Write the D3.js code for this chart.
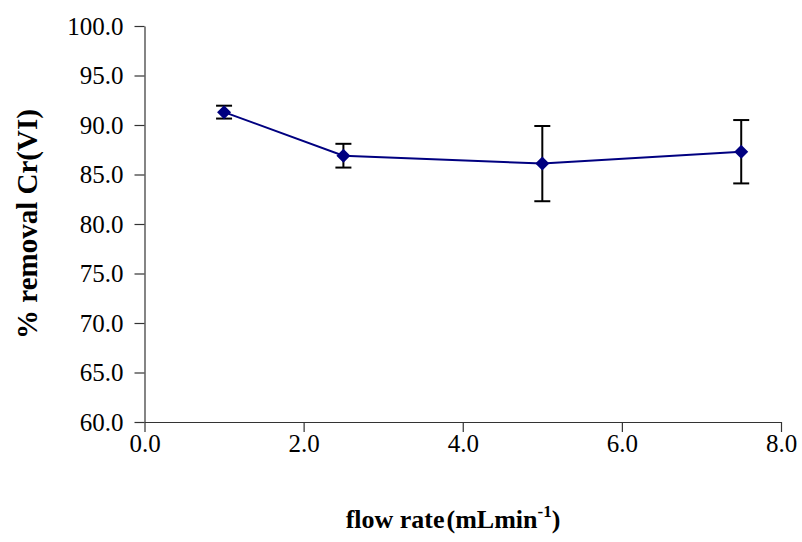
<!DOCTYPE html>
<html>
<head>
<meta charset="utf-8">
<script src="https://cdn.jsdelivr.net/npm/d3@7"></script>
<style>
  body { margin: 0; background: #fff; }
  svg text { font-family: "Liberation Serif", "Times New Roman", serif !important; }
</style>
</head>
<body>
<div id="chart"></div>
<script>
const flowRate = [1.0, 2.5, 5.0, 7.5];
const removal = [91.3, 86.9, 86.1, 87.3];
const errorBar = [0.65, 1.2, 3.8, 3.2];
const xTicks = [0, 2, 4, 6, 8];
const yTicks = [60, 65, 70, 75, 80, 85, 90, 95, 100];

const width = 802, height = 542;
const margin = {left: 144.5, right: 21, top: 26, bottom: 120};
const fontFam = "Liberation Serif, Times New Roman, serif";

const svg = d3.select("#chart").append("svg")
  .attr("width", width)
  .attr("height", height)
  .attr("font-family", fontFam);

const x = d3.scaleLinear().domain([0, 8]).range([margin.left, width - margin.right]);
const y = d3.scaleLinear().domain([60, 100]).range([height - margin.bottom, margin.top]);

// axes
const xAxis = svg.append("g")
  .attr("transform", `translate(0,${y(60)})`)
  .call(d3.axisBottom(x).tickValues(xTicks).tickFormat(d3.format(".1f")).tickSize(10).tickSizeOuter(0));
const yAxis = svg.append("g")
  .attr("transform", `translate(${x(0)},0)`)
  .call(d3.axisLeft(y).tickValues(yTicks).tickFormat(d3.format(".1f")).tickSize(10).tickSizeOuter(0));

[xAxis, yAxis].forEach(a => {
  a.attr("font-family", fontFam).attr("font-size", 25);
  a.selectAll(".domain").attr("stroke", "#333").attr("stroke-width", 1.2);
  a.selectAll(".tick line").attr("stroke", "#333").attr("stroke-width", 1.2);
  a.selectAll(".tick text").attr("fill", "#000");
});
xAxis.selectAll(".tick text").attr("y", 12).attr("dy", "0.71em");
yAxis.selectAll(".tick text").attr("x", -21);

const data = flowRate.map((f, i) => ({f, v: removal[i], e: errorBar[i]}));

// error bars
const eb = svg.append("g").attr("stroke", "#000").attr("stroke-width", 2);
data.forEach(d => {
  eb.append("line")
    .attr("x1", x(d.f)).attr("x2", x(d.f))
    .attr("y1", y(d.v + d.e)).attr("y2", y(d.v - d.e));
  [d.v + d.e, d.v - d.e].forEach(c => {
    eb.append("line")
      .attr("x1", x(d.f) - 8).attr("x2", x(d.f) + 8)
      .attr("y1", y(c)).attr("y2", y(c));
  });
});

// line
svg.append("path")
  .datum(data)
  .attr("fill", "none")
  .attr("stroke", "#000080")
  .attr("stroke-width", 2)
  .attr("d", d3.line().x(d => x(d.f)).y(d => y(d.v)));

// diamond markers
svg.append("g")
  .selectAll("path")
  .data(data)
  .join("path")
  .attr("transform", d => `translate(${x(d.f)},${y(d.v)})`)
  .attr("d", "M0,-7L7,0L0,7L-7,0Z")
  .attr("fill", "#000080");

// axis titles
svg.append("text")
  .attr("transform", `translate(37,224) rotate(-90)`)
  .attr("text-anchor", "middle")
  .attr("font-size", 29)
  .attr("font-weight", "bold")
  .text("% removal Cr(VI)");

const xt = svg.append("text")
  .attr("x", 453)
  .attr("y", 528)
  .attr("text-anchor", "middle")
  .attr("font-size", 26)
  .attr("font-weight", "bold");
xt.append("tspan").text("flow rate");
xt.append("tspan").attr("dx", 2).text("(mLmin");
xt.append("tspan").attr("dy", -11).attr("font-size", 17).text("-1");
xt.append("tspan").attr("dy", 11).text(")");
</script>
</body>
</html>
